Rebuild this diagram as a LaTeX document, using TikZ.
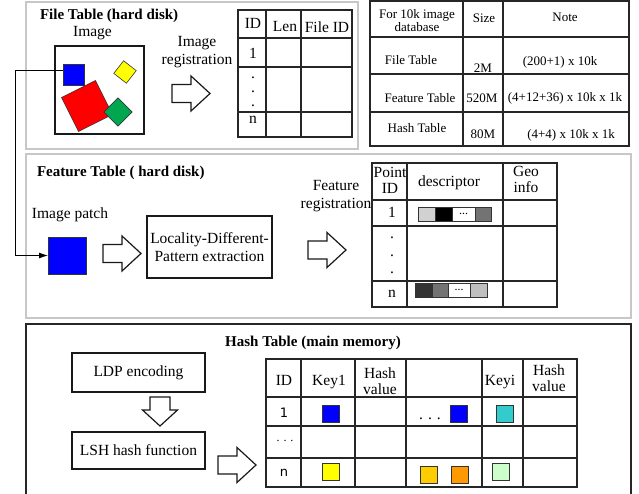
\documentclass[tikz,border=0pt]{standalone}
\usepackage{fontspec}
\setmainfont{Liberation Serif}
\newfontfamily\sansf{DejaVu Sans}
\usetikzlibrary{arrows.meta,calc}
\definecolor{myblue}{RGB}{0,0,255}
\definecolor{myyellow}{RGB}{255,255,0}
\definecolor{myred}{RGB}{255,0,0}
\definecolor{mygreen}{RGB}{0,166,80}
\definecolor{mycyan}{RGB}{51,204,204}
\definecolor{mygold}{RGB}{255,204,0}
\definecolor{myorange}{RGB}{255,153,0}
\definecolor{mypale}{RGB}{204,255,204}
\begin{document}
\begin{tikzpicture}[x=1pt,y=-1pt,
  every node/.style={inner sep=0pt, outer sep=0pt, font=\fontsize{15.5}{18}\selectfont, align=center},
  panel/.style={draw=black!22, line width=1.6pt},
  hpanel/.style={draw=black!85, line width=2pt},
  tline/.style={draw=black!85, line width=1.2pt},
  box/.style={draw=black!90, line width=1.2pt},
  title/.style={font=\fontsize{15}{18}\selectfont\bfseries, anchor=west},
  small/.style={font=\fontsize{13}{13}\selectfont},
  sq/.style={draw=black!80, line width=0.6pt, minimum size=17pt},
  seg/.style={draw=black!80, line width=0.8pt, minimum height=14pt},
  conn/.style={draw=black, line width=0.9pt},
  rarrow/.pic={\draw[box,fill=white] (0,-9) -- (19,-9) -- (19,-17.5) -- (38,0) -- (19,17.5) -- (19,9) -- (0,9) -- cycle;},
  darrow/.pic={\draw[box,fill=white] (-10,0) -- (10,0) -- (10,13) -- (17.5,13) -- (0,29) -- (-17.5,13) -- (-10,13) -- cycle;},
]
\useasboundingbox (0,0) rectangle (639,494);

% ---------------- File table panel
\draw[panel] (26,2) rectangle (358,149);
\node[title] (ftitle) at (40,16) {File Table (hard disk)};
\node (imglabel) at (92.5,33) {Image};
\node[box, minimum width=89pt, minimum height=88pt] (img) at (99.5,90) {};
\node[sq, fill=myblue, minimum size=21pt] (bsq) at (73.5,74.5) {};
\node[sq, fill=myyellow, minimum size=16pt, rotate=52] (ysq) at (125,72) {};
\node[sq, fill=myred, minimum size=38pt, rotate=26.6] (rsq) at (87,106) {};
\node[sq, fill=mygreen, minimum size=20pt, rotate=45] (gsq) at (118,112) {};
\node (imreg) at (197,52) {Image\\registration};
\pic at (172,93.5) {rarrow};

% file table
\draw[tline] (238,10) rectangle (352,137);
\foreach \x in {266,301} \draw[tline] (\x,10) -- (\x,137);
\foreach \y in {38,67,112} \draw[tline] (238,\y) -- (352,\y);
\node (ftid) at (253,23) {ID};
\node (ftlen) at (285,27) {Len};
\node (ftfid) at (327,27) {File ID};
\node (ft1) at (253,53) {1};
\node (ftd1) at (253,78) {.};
\node (ftd2) at (253,92) {.};
\node (ftd3) at (253,106) {.};
\node (ftn) at (253,120) {n};

% ---------------- Size table
\draw[tline] (370,1) rectangle (629,146);
\foreach \x in {463,503} \draw[tline] (\x,1) -- (\x,146);
\foreach \y in {37,74,112} \draw[tline] (370,\y) -- (629,\y);
\node[small] (s00) at (417,21) {For 10k image\\database};
\node[small] (s01) at (484,18) {Size};
\node[small] (s02) at (565,17) {Note};
\node[small] (s10) at (411,60) {File Table};
\node[small] (s11) at (483,68) {2M};
\node[small] (s12) at (560,62) {(200+1) x 10k};
\node[small] (s20) at (420,98) {Feature Table};
\node[small] (s21) at (482,98) {520M};
\node[small] (s22) at (565,98) {(4+12+36) x 10k x 1k};
\node[small] (s30) at (417,128) {Hash Table};
\node[small] (s31) at (483,134) {80M};
\node[small] (s32) at (571,135) {(4+4) x 10k x 1k};

% ---------------- Feature panel
\draw[panel] (26,154) rectangle (631,318);
\node[title] (fttitle) at (37,173) {Feature Table ( hard disk)};
\node (patchlabel) at (70,215) {Image patch};
\node[sq, fill=myblue, minimum width=38pt, minimum height=37pt] (patch) at (67,255.5) {};
\pic at (103,253.5) {rarrow};
\node[box, minimum width=125pt, minimum height=62pt] (ldp) at (209.5,247) {Locality-Different-\\Pattern extraction};
\node (freg) at (336,196) {Feature\\registration};
\pic at (308,250) {rarrow};

% feature table
\draw[tline] (372,163) rectangle (557,307);
\foreach \x in {407,503} \draw[tline] (\x,163) -- (\x,307);
\foreach \y in {200,226,281} \draw[tline] (372,\y) -- (557,\y);
\node[font=\fontsize{15.5}{16}\selectfont] (fpid) at (390,180) {Point\\ID};
\node (fdesc) at (449,183) {descriptor};
\node[font=\fontsize{15.5}{16}\selectfont] (fgeo) at (526,179) {Geo\\info};
\node (f1) at (392,212) {1};
\node (fd1) at (392,238) {.};
\node (fd2) at (392,256) {.};
\node (fd3) at (392,273) {.};
\node (fn) at (392,294) {n};
% descriptor bars
\node[seg, fill=black!18, minimum width=17pt] (a1) at (426.5,214) {};
\node[seg, fill=black, minimum width=17pt] (a2) at (443.5,214) {};
\node[seg, fill=white, minimum width=23pt, font=\fontsize{12}{12}\selectfont] (a3) at (463.5,214) {...};
\node[seg, fill=black!55, minimum width=16pt] (a4) at (483,214) {};
\node[seg, fill=black!80, minimum width=17pt] (b1) at (423.5,290) {};
\node[seg, fill=black!55, minimum width=16pt] (b2) at (440,290) {};
\node[seg, fill=white, minimum width=22pt, font=\fontsize{12}{12}\selectfont] (b3) at (459,290) {...};
\node[seg, fill=black!25, minimum width=17pt] (b4) at (478.5,290) {};

% connector from blue square to patch
\coordinate (corner) at (15,70);
\draw[conn, -{Latex[length=9pt,width=6pt]}] (bsq.west |- corner) -- (corner) |- (patch.west);

% ---------------- Hash panel
\draw[hpanel] (26,324) rectangle (631,512);
\node[font=\fontsize{15}{18}\selectfont\bfseries] (htitle) at (313,343) {Hash Table (main memory)};
\node[box, minimum width=133pt, minimum height=39pt] (ldpe) at (138.5,372.5) {LDP encoding};
\pic at (160,397) {darrow};
\node[box, minimum width=133pt, minimum height=37pt] (lsh) at (138.5,450.5) {LSH hash function};
\pic at (218,465) {rarrow};

% hash table
\draw[tline] (266,359) rectangle (577,487);
\foreach \x in {301,355,406,482,523} \draw[tline] (\x,359) -- (\x,487);
\foreach \y in {397,426,458} \draw[tline] (266,\y) -- (577,\y);
\node (hid) at (284,380) {ID};
\node (hk1) at (329,382) {Key1};
\node[font=\fontsize{15.5}{16}\selectfont] (hv1) at (380,381) {Hash\\value};
\node (hki) at (500,382) {Keyi};
\node[font=\fontsize{15.5}{16}\selectfont] (hv2) at (549,378) {Hash\\value};
\node[font=\sansf\fontsize{13}{13}\selectfont] (h1) at (284,413) {1};
\node[font=\fontsize{12}{12}\selectfont] (hdots) at (285,441) {.\hspace{4pt}.\hspace{4pt}.};
\node[font=\sansf\fontsize{13}{13}\selectfont] (hn) at (284,473) {n};
\node[font=\fontsize{15.5}{15}\selectfont] (hd4) at (430,419) {.\hspace{5pt}.\hspace{5pt}.};
\node[sq, fill=myblue] (k11) at (330.5,414) {};
\node[sq, fill=myblue] (k14) at (458.5,414) {};
\node[sq, fill=mycyan] (k1i) at (504.5,414) {};
\node[sq, fill=myyellow] (kn1) at (330.5,472) {};
\node[sq, fill=mygold] (kn4a) at (428.5,474.5) {};
\node[sq, fill=myorange] (kn4b) at (459.5,474.5) {};
\node[sq, fill=mypale] (kni) at (501,471.5) {};
\end{tikzpicture}
\end{document}
